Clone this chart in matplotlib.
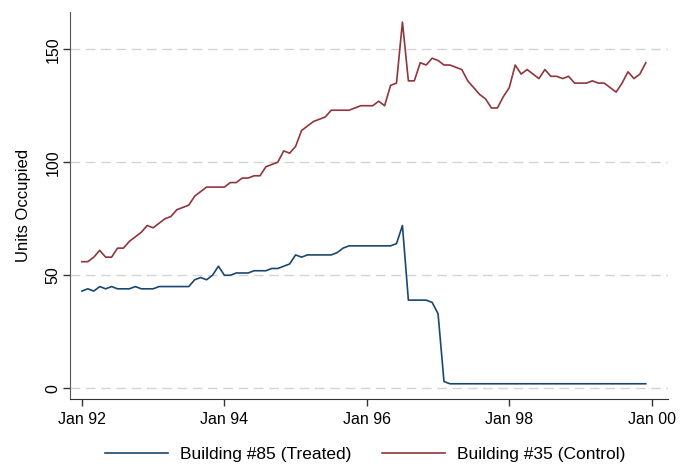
import matplotlib
matplotlib.use("Agg")
import matplotlib.pyplot as plt
import numpy as np

plt.rcParams['font.family'] = ['Liberation Sans', 'DejaVu Sans']

# months since Jan 1992 (monthly data, Jan 92 - Dec 99)
months = np.arange(96)
tick_pos = [0, 24, 48, 72, 96]
tick_labels = ["Jan 92", "Jan 94", "Jan 96", "Jan 98", "Jan 00"]

treated = [43, 44, 43, 45, 44, 45, 44, 44, 44, 45, 44, 44,
           44, 45, 45, 45, 45, 45, 45, 48, 49, 48, 50, 54,
           50, 50, 51, 51, 51, 52, 52, 52, 53, 53, 54, 55,
           59, 58, 59, 59, 59, 59, 59, 60, 62, 63, 63, 63,
           63, 63, 63, 63, 63, 64, 72, 39, 39, 39, 39, 38,
           33, 3, 2, 2, 2, 2, 2, 2, 2, 2, 2, 2,
           2, 2, 2, 2, 2, 2, 2, 2, 2, 2, 2, 2,
           2, 2, 2, 2, 2, 2, 2, 2, 2, 2, 2, 2]

control = [56, 56, 58, 61, 58, 58, 62, 62, 65, 67, 69, 72,
           71, 73, 75, 76, 79, 80, 81, 85, 87, 89, 89, 89,
           89, 91, 91, 93, 93, 94, 94, 98, 99, 100, 105, 104,
           107, 114, 116, 118, 119, 120, 123, 123, 123, 123, 124, 125,
           125, 125, 127, 125, 134, 135, 162, 136, 136, 144, 143, 146,
           145, 143, 143, 142, 141, 136, 133, 130, 128, 124, 124, 129,
           133, 143, 139, 141, 139, 137, 141, 138, 138, 137, 138, 135,
           135, 135, 136, 135, 135, 133, 131, 135, 140, 137, 139, 144]

fig = plt.figure(figsize=(6.8, 4.66), dpi=100)
ax = fig.add_axes([0.103, 0.143, 0.879, 0.831])

ax.plot(months, treated, color="#1a476f", lw=1.2, label="Building #85 (Treated)")
ax.plot(months, control, color="#90353b", lw=1.2, label="Building #35 (Control)")

ax.set_xlim(-2, 98.7)
ax.set_ylim(-4.9, 166.4)
ax.set_xticks(tick_pos)
ax.set_xticklabels(tick_labels, fontsize=11.5)
ax.set_yticks([0, 50, 100, 150])
ax.set_yticklabels(["0", "50", "100", "150"], rotation=90, va="center", fontsize=11.5)
ax.set_ylabel("Units Occupied", fontsize=12, labelpad=10)

ax.grid(axis="y", color="#d4d4d4", linestyle=(0, (7, 4)), lw=1.0)
ax.set_axisbelow(True)
for s in ["top", "right"]:
    ax.spines[s].set_visible(False)
ax.spines["left"].set_color("#555555")
ax.spines["bottom"].set_color("#333333")
ax.tick_params(length=5, width=1, color="#333333", pad=4)
ax.tick_params(axis="y", pad=2)

fig.legend(loc="center", bbox_to_anchor=(0.537, 0.024), ncol=2, frameon=False,
           fontsize=12.5, handlelength=3.6, columnspacing=1.8, handletextpad=0.7)

fig.savefig("out.png", dpi=100)
